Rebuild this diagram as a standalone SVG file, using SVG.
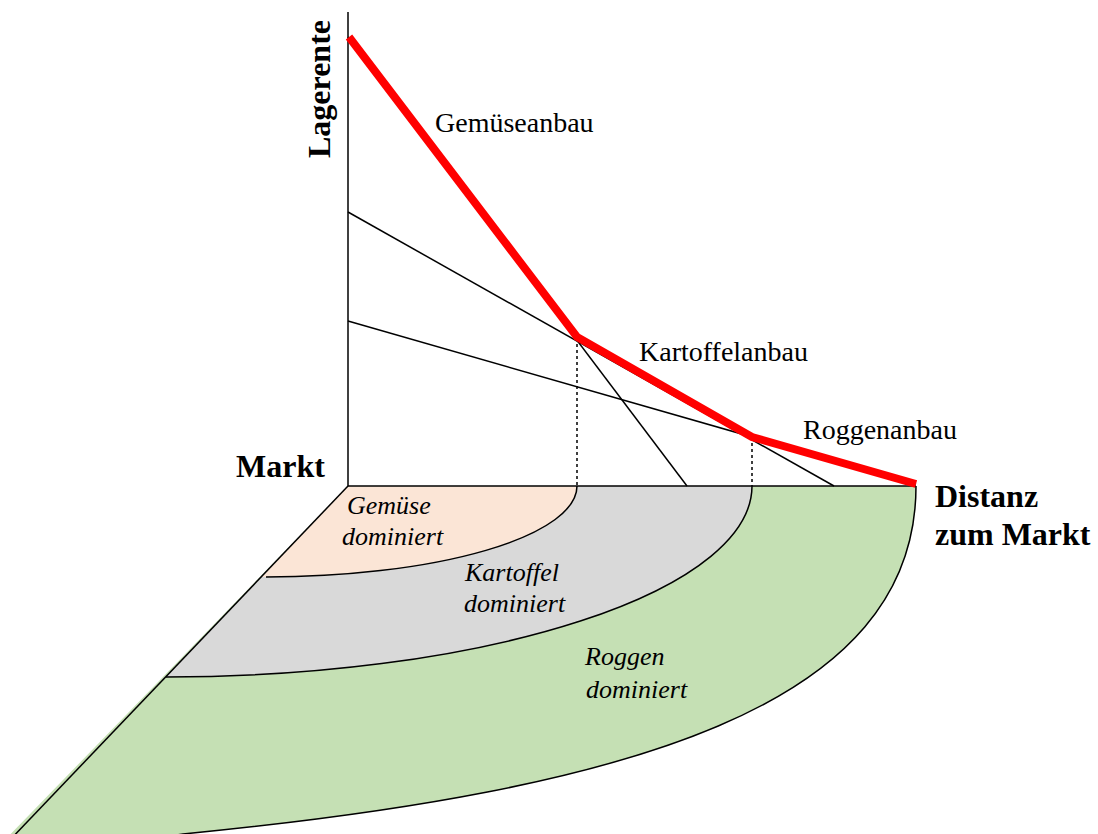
<svg xmlns="http://www.w3.org/2000/svg" width="1098" height="834" viewBox="0 0 1098 834">
<style>
.ln{fill:none;stroke:#000;stroke-width:1.5}
.dot{fill:none;stroke:#000;stroke-width:1.5;stroke-dasharray:3 3}
.lbl{font-family:"Liberation Serif","Times New Roman",serif;font-size:28px;fill:#000}
.bold{font-family:"Liberation Serif","Times New Roman",serif;font-size:32px;font-weight:bold;fill:#000}
.it{font-family:"Liberation Serif","Times New Roman",serif;font-size:26px;font-style:italic;fill:#000}
</style>
<rect width="1098" height="834" fill="#fff"/>
<g id="zone-roggen">
<path d="M348,486 L916,486 C916,706 633,790 183,834 L183,845 L0,845 Z" fill="#C5E0B4"/>
</g>
<g id="zone-kartoffel">
<path d="M348,486 L752,486 A586,191 0 0 1 166,677 Z" fill="#D9D9D9"/>
</g>
<g id="zone-gemuese">
<path d="M348,486 L577,486 A311,91 0 0 1 266,577 L261,577 Z" fill="#FBE5D6"/>
</g>
<g id="connectors">
<path class="ln" d="M577,486 A311,91 0 0 1 266,577"/>
<path class="ln" d="M752,486 A586,191 0 0 1 166,677"/>
<path class="ln" d="M916,486 C916,706 633,790 183,834 L170,836"/>
<line class="ln" x1="348" y1="486" x2="8" y2="842"/>
<line class="ln" x1="348" y1="12" x2="348" y2="486"/>
<line class="ln" x1="348" y1="486" x2="916" y2="486"/>
<line class="ln" x1="348" y1="212" x2="834" y2="486"/>
<line class="ln" x1="348" y1="321" x2="916" y2="484"/>
<line class="ln" x1="348" y1="37" x2="687" y2="486"/>
<line class="dot" x1="577" y1="338" x2="577" y2="486"/>
<line class="dot" x1="752" y1="437" x2="752" y2="486"/>
<polyline fill="none" stroke="#FF0000" stroke-width="8" points="349,37 577,337 752,437 916,484"/>
</g>
<g id="labels">
<text class="bold" transform="translate(330,89) rotate(-90)" text-anchor="middle">Lagerente</text>
<text class="lbl" x="435" y="132">Gemüseanbau</text>
<text class="lbl" x="639" y="361">Kartoffelanbau</text>
<text class="lbl" x="803" y="439">Roggenanbau</text>
<text class="bold" x="236" y="477">Markt</text>
<text class="bold" x="935" y="507">Distanz</text>
<text class="bold" x="935" y="545">zum Markt</text>
<text class="it" x="347" y="514">Gemüse</text>
<text class="it" x="342" y="545">dominiert</text>
<text class="it" x="465" y="581">Kartoffel</text>
<text class="it" x="464" y="612">dominiert</text>
<text class="it" x="585" y="665">Roggen</text>
<text class="it" x="586" y="698">dominiert</text>
</g>
</svg>
